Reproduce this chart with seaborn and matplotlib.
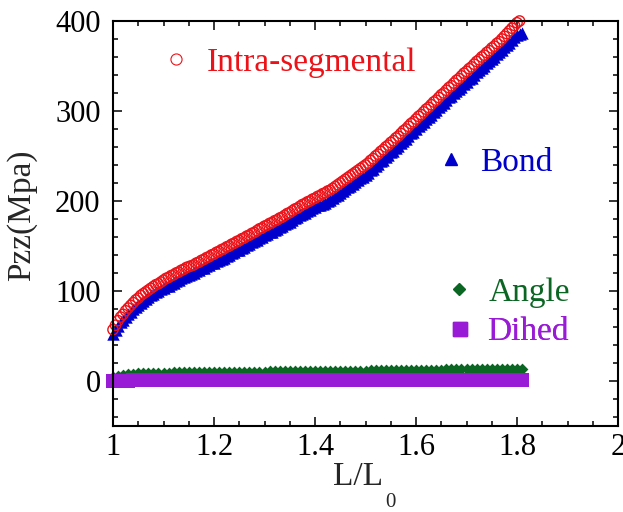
import matplotlib
matplotlib.use("Agg")
import matplotlib.pyplot as plt
import seaborn as sns
from matplotlib.lines import Line2D
from matplotlib.ticker import MultipleLocator, FuncFormatter

sns.set_style("ticks")
plt.rcParams["font.family"] = ["Liberation Serif", "DejaVu Serif"]

# Pzz contributions (MPa) along the stretch ratio L/L0.
# Intra-segmental and bond are sampled every 0.005, angle and dihedral every 0.01.
intra = [57, 62, 67, 71, 74, 78, 81, 84, 87, 90,
         92, 95, 97, 99, 101, 103, 105, 107, 108, 110,
         112, 114, 115, 117, 118, 120, 121, 123, 124, 126,
         127, 128, 129, 131, 132, 134, 135, 137, 138, 140,
         141, 143, 144, 146, 147, 149, 150, 152, 153, 155,
         156, 158, 159, 161, 162, 164, 165, 167, 169, 170,
         172, 173, 175, 176, 178, 179, 181, 182, 184, 186,
         187, 189, 191, 192, 194, 196, 197, 199, 200, 202,
         203, 205, 206, 208, 209, 211, 212, 214, 216, 218,
         220, 222, 224, 226, 228, 230, 232, 234, 236, 238,
         240, 242, 245, 247, 250, 252, 255, 257, 260, 262,
         265, 267, 270, 272, 275, 278, 280, 283, 286, 288,
         291, 294, 296, 299, 302, 304, 307, 310, 312, 315,
         318, 320, 323, 326, 328, 331, 334, 336, 339, 342,
         344, 347, 349, 352, 355, 357, 360, 362, 365, 367,
         370, 372, 375, 377, 380, 383, 386, 389, 392, 395,
         398, 400]
bond = [52, 57, 61, 65, 68, 71, 74, 77, 80, 82,
        84, 87, 89, 91, 93, 95, 97, 99, 100, 102,
        103, 105, 106, 108, 109, 111, 112, 114, 115, 117,
        118, 119, 120, 122, 123, 125, 126, 128, 129, 131,
        131, 133, 134, 136, 137, 139, 140, 142, 143, 145,
        146, 148, 149, 151, 152, 154, 155, 157, 159, 160,
        162, 163, 165, 166, 168, 169, 171, 172, 174, 176,
        177, 179, 181, 182, 184, 186, 187, 189, 190, 192,
        193, 195, 196, 197, 198, 200, 201, 203, 205, 207,
        209, 211, 213, 215, 217, 219, 221, 223, 225, 227,
        229, 231, 234, 236, 239, 241, 244, 246, 249, 251,
        254, 256, 259, 261, 264, 267, 269, 272, 275, 277,
        280, 283, 285, 288, 291, 293, 296, 299, 301, 304,
        307, 309, 312, 315, 317, 320, 322, 324, 327, 330,
        332, 335, 337, 340, 343, 345, 348, 350, 353, 355,
        358, 360, 363, 365, 368, 371, 373, 376, 379, 382,
        384, 386, 387]
angle = [4.0, 5.8, 7.0, 7.7, 8.2, 8.5, 8.8, 9.0, 9.1, 9.2,
         9.3, 9.4, 9.5, 9.5, 9.6, 9.7, 9.8, 9.8, 9.9, 10.0,
         10.0, 10.1, 10.1, 10.2, 10.2, 10.3, 10.3, 10.4, 10.4, 10.5,
         10.5, 10.6, 10.6, 10.7, 10.7, 10.8, 10.8, 10.9, 10.9, 11.0,
         11.0, 11.1, 11.1, 11.2, 11.2, 11.3, 11.4, 11.4, 11.5, 11.5,
         11.6, 11.7, 11.7, 11.8, 11.9, 12.0, 12.0, 12.1, 12.2, 12.2,
         12.3, 12.4, 12.5, 12.5, 12.6, 12.7, 12.8, 12.8, 12.9, 12.9,
         13.0, 13.0, 13.1, 13.1, 13.2, 13.2, 13.3, 13.3, 13.4, 13.4,
         13.5, 13.3]
dihed = [0.2, 0.3, 0.4, 0.5, 0.6, 0.6, 0.7, 0.7, 0.8, 0.8,
         0.8, 0.9, 0.9, 0.9, 0.9, 1.0, 1.0, 1.0, 1.0, 1.0,
         1.0, 1.1, 1.1, 1.1, 1.1, 1.1, 1.1, 1.1, 1.2, 1.2,
         1.2, 1.2, 1.2, 1.2, 1.2, 1.2, 1.2, 1.3, 1.3, 1.3,
         1.3, 1.3, 1.3, 1.3, 1.3, 1.3, 1.3, 1.3, 1.3, 1.4,
         1.4, 1.4, 1.4, 1.4, 1.4, 1.4, 1.4, 1.4, 1.4, 1.4,
         1.4, 1.4, 1.5, 1.5, 1.5, 1.5, 1.5, 1.5, 1.5, 1.5,
         1.5, 1.5, 1.5, 1.5, 1.5, 1.5, 1.5, 1.5, 1.5, 1.5,
         1.5, 1.5]

# stretch-ratio grids the series were recorded on
strain = [round(1 + 0.005 * i, 3) for i in range(len(intra))]
strain_bond = [round(1 + 0.005 * i, 3) for i in range(len(bond))]
strain_ad = [round(1 + 0.01 * i, 2) for i in range(len(angle))]

labels = ["Intra-segmental", "Bond", "Angle", "Dihed"]
RED, BLUE, GREEN, PURPLE = "#ec1218", "#0000cc", "#0b6623", "#9a1bd6"

fig = plt.figure(figsize=(6.23, 5.12), dpi=100)
ax = fig.add_axes([0.1814, 0.168, 0.8106, 0.791])

sns.scatterplot(x=strain_ad, y=angle, marker="D", s=36, color=GREEN,
                edgecolor=GREEN, linewidth=0, ax=ax, legend=False,
                zorder=2, clip_on=False)
sns.scatterplot(x=strain_ad, y=dihed, marker="s", s=100, color=PURPLE,
                edgecolor=PURPLE, linewidth=0, ax=ax, legend=False,
                zorder=3, clip_on=False)
sns.scatterplot(x=strain_bond, y=bond, marker="^", s=80, color=BLUE,
                edgecolor=BLUE, linewidth=0, ax=ax, legend=False,
                zorder=4, clip_on=False)
sns.scatterplot(x=strain, y=intra, marker="o", s=55, facecolors="none",
                edgecolors=RED, linewidth=1.0, ax=ax, legend=False,
                zorder=5, clip_on=False)

ax.set_xlim(1, 2)
ax.set_ylim(-50, 400)
ax.xaxis.set_major_locator(MultipleLocator(0.2))
ax.xaxis.set_minor_locator(MultipleLocator(0.05))
ax.yaxis.set_major_locator(MultipleLocator(100))
ax.yaxis.set_minor_locator(MultipleLocator(20))
ax.xaxis.set_major_formatter(FuncFormatter(lambda v, p: f"{v:g}"))

for side in ax.spines.values():
    side.set_linewidth(1.5)
    side.set_color("black")
    side.set_zorder(6)
ax.tick_params(which="both", direction="in", top=True, right=True,
               width=1.1, colors="black", labelsize=22)
ax.tick_params(which="major", length=6.5)
ax.tick_params(which="minor", length=3.5)
ax.tick_params(axis="y", pad=9)
ax.tick_params(axis="x", pad=5)

ax.set_ylabel("Pzz(Mpa)", fontsize=24)
ax.yaxis.set_label_coords(-0.150, 0.52)
ax.set_xlabel("L/L", fontsize=24)
ax.xaxis.label.set_va("baseline")
ax.xaxis.set_label_coords(0.485, -0.146)
fig.text(0.626, 0.010, "0", fontsize=15, ha="center", va="baseline")

# one borderless key per series, placed next to its curve
keys = [
    (Line2D([], [], ls="", marker="o", markersize=8, mfc="none", mec=RED, mew=0.8),
     labels[0], RED, (0.105, 0.898), 0.63),
    (Line2D([], [], ls="", marker="^", markersize=8, color=BLUE),
     labels[1], BLUE, (0.650, 0.650), 0.57),
    (Line2D([], [], ls="", marker="D", markersize=6.5, color=GREEN),
     labels[2], GREEN, (0.665, 0.330), 0.60),
    (Line2D([], [], ls="", marker="s", markersize=10, color=PURPLE),
     labels[3], PURPLE, (0.667, 0.232), 0.51),
]
for handle, text, col, anchor, pad in keys:
    leg = ax.legend(handles=[handle], labels=[text], loc="center left",
                    bbox_to_anchor=anchor, frameon=False, fontsize=24,
                    handlelength=0.6, handletextpad=pad, borderpad=0,
                    borderaxespad=0, labelcolor=col)
    ax.add_artist(leg)

fig.savefig("out.png", dpi=100)
